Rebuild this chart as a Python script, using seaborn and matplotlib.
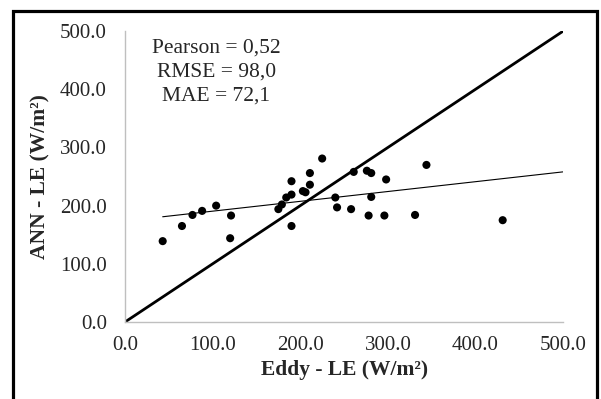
import numpy as np
import pandas as pd
import seaborn as sns
import matplotlib.pyplot as plt
from matplotlib.patches import Rectangle

# values
eddy_le = [43, 65, 77, 88, 104, 121, 120, 175, 179, 184, 190, 190, 190, 203, 206,
           211, 211, 225, 240, 242, 258, 261, 276, 281, 281, 278, 298, 296, 331, 344, 431]
ann_le = [139, 165, 184, 191, 200, 183, 144, 194, 202, 214, 219, 242, 165, 225, 223,
          236, 256, 281, 214, 197, 194, 258, 260, 256, 215, 183, 245, 183, 184, 270, 175]
ticks = [0, 100, 200, 300, 400, 500]
stats_text = "Pearson = 0,52\nRMSE = 98,0\nMAE = 72,1"

df = pd.DataFrame({"eddy": eddy_le, "ann": ann_le})

sns.set_style("white")
plt.rcParams["font.family"] = ["Liberation Serif", "DejaVu Serif"]

fig = plt.figure(figsize=(6.01, 3.99), dpi=100)
ax = fig.add_axes([0.208, 0.193, 0.729, 0.729])

# 1:1 line
sns.lineplot(x=[ticks[0], ticks[-1]], y=[ticks[0], ticks[-1]], ax=ax,
             color="black", linewidth=2.0)

# linear trend line (excel style, forecast forward to 500)
slope, intercept = np.polyfit(df["eddy"], df["ann"], 1)
trend_x = np.array([df["eddy"].min(), ticks[-1]])
sns.lineplot(x=trend_x, y=intercept + slope * trend_x, ax=ax,
             color="black", linewidth=0.8)

sns.scatterplot(data=df, x="eddy", y="ann", ax=ax, color="black",
                s=34, edgecolor="none", zorder=3)

ax.set_xlim(ticks[0], ticks[-1])
ax.set_ylim(ticks[0], ticks[-1])
ax.set_xticks(ticks)
ax.set_yticks(ticks)
ax.set_xticklabels([f"{t:.1f}" for t in ticks])
ax.set_yticklabels([f"{t:.1f}" for t in ticks])
ax.tick_params(axis="both", length=0, labelsize=15)
ax.tick_params(axis="y", pad=13)
ax.tick_params(axis="x", pad=10)

for side in ["top", "right"]:
    ax.spines[side].set_visible(False)
for side in ["left", "bottom"]:
    ax.spines[side].set_color("#bfbfbf")
    ax.spines[side].set_linewidth(1.0)

ax.set_xlabel("Eddy - LE (W/m²)", fontsize=15.5, fontweight="bold", labelpad=4)
ax.set_ylabel("ANN - LE (W/m²)", fontsize=15.5, fontweight="bold", labelpad=7)

ax.text(0.208, 0.975, stats_text, transform=ax.transAxes, ha="center", va="top",
        multialignment="center", fontsize=15.5, linespacing=1.36)

# black border around the whole chart
fig.patches.append(Rectangle((0.0216, -0.05), 0.9717, 1.022, transform=fig.transFigure,
                             fill=False, edgecolor="black", linewidth=2.3))

fig.savefig("out.png", dpi=100)
